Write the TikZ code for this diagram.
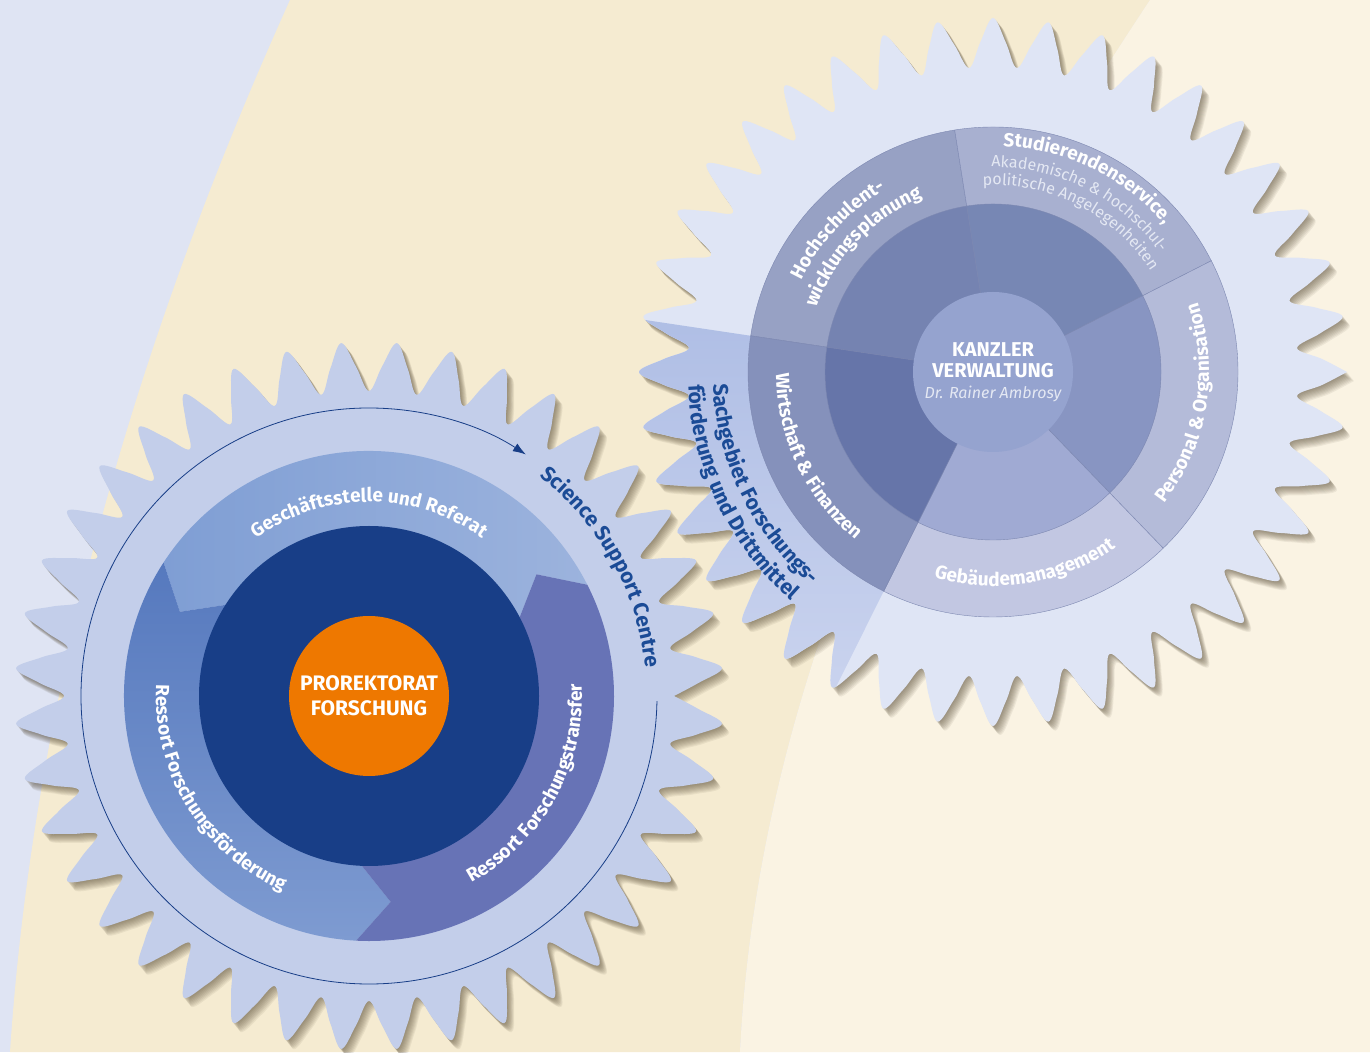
\documentclass[tikz,border=0pt]{standalone}
\usepackage{fontspec}
\setmainfont{Fira Sans}
\usetikzlibrary{decorations.text, arrows.meta}

\definecolor{bgblue}{HTML}{DFE4F3}
\definecolor{bgbeige}{HTML}{F5EBD1}
\definecolor{bgcream}{HTML}{FAF3E3}
\definecolor{gearleft}{HTML}{C3CEEA}
\definecolor{gearright}{HTML}{DFE5F5}
\definecolor{gearshade}{HTML}{4A3E28}
\definecolor{segAl}{HTML}{7F9ED4}
\definecolor{segAr}{HTML}{9CB3DD}
\definecolor{segBt}{HTML}{5679BE}
\definecolor{segBb}{HTML}{7E9BD1}
\definecolor{segC}{HTML}{6773B6}
\definecolor{coreblue}{HTML}{183E87}
\definecolor{prorange}{HTML}{EE7800}
\definecolor{textblue}{HTML}{1B4B96}
\definecolor{wedgetop}{HTML}{AFBEE5}
\definecolor{wedgebot}{HTML}{CCD5EF}
\definecolor{hsout}{HTML}{97A1C4}
\definecolor{hsin}{HTML}{7583B1}
\definecolor{stout}{HTML}{A8B0D0}
\definecolor{stin}{HTML}{7787B4}
\definecolor{peout}{HTML}{B4BBD9}
\definecolor{pein}{HTML}{8895C2}
\definecolor{geout}{HTML}{C2C7E2}
\definecolor{gein}{HTML}{A0AAD3}
\definecolor{wiout}{HTML}{8591BB}
\definecolor{wiin}{HTML}{6675A9}
\definecolor{kanzlerblue}{HTML}{95A3CF}
\definecolor{secline}{HTML}{7D88B1}
\definecolor{sublabel}{HTML}{E4E8F3}

\newcommand{\lblfont}{\bfseries\fontsize{19}{23}\selectfont}
\newcommand{\bluelblfont}{\bfseries\fontsize{21}{25}\selectfont}
\newcommand{\sublblfont}{\fontsize{16}{19}\selectfont}

\begin{document}
\begin{tikzpicture}[x=1pt, y=1pt,
		declare function={gearr(\a,\p)=305+49*abs(Mod(40*(\a-\p),360)-180)/180;},
		gearplot/.style={domain=0:360, samples=161, variable=\a, smooth, tension=0.6},
		gearshadow/.style={fill=gearshade, opacity=0.075},
		arctext/.style={decorate, decoration={text along path, text align=center, text color=#1}},
		sector/.style={fill=#1, draw=secline, line width=0.4pt},
		centrelabel/.style={circle, inner sep=0pt, minimum size=160pt, align=center, text=white}]

		\useasboundingbox (0,0) rectangle (1370,1052);
		\clip (0,0) rectangle (1370,1052);

		% Draw the background bands
		\fill[bgblue] (0,0) rectangle (1370,1052);
		\fill[bgbeige] (290,1052) .. controls (190,830) and (40,450) .. (10,0) -- (740,0) .. controls (760,400) and (950,750) .. (1150,1052) -- cycle;
		\fill[bgcream] (1150,1052) .. controls (950,750) and (760,400) .. (740,0) -- (1370,0) -- (1370,1052) -- cycle;

		% Draw the soft shadows of both gears
		\foreach \d in {1,...,9} {
			\fill[gearshadow, shift={(369+0.8*\d,356-\d)}] plot[gearplot] (\a:{gearr(\a,85.5)}) -- cycle;
			\fill[gearshadow, shift={(993+0.8*\d,680-\d)}] plot[gearplot] (\a:{gearr(\a,90)}) -- cycle;
		}

		% Left gear: Prorektorat Forschung
		\begin{scope}[shift={(369,356)}]
			\fill[gearleft] plot[gearplot] (\a:{gearr(\a,85.5)}) -- cycle;

			% Draw the three arrow segments
			\shade[left color=segAl, right color=segAr] (27:245) arc[start angle=27, end angle=147, radius=245] -- (156:207) -- (147:168) arc[start angle=147, end angle=27, radius=168] -- (36:207) -- cycle;
			\shade[top color=segBt, bottom color=segBb] (147:245) arc[start angle=147, end angle=267, radius=245] -- (276:207) -- (267:168) arc[start angle=267, end angle=147, radius=168] -- (156:207) -- cycle;
			\fill[segC] (267:245) arc[start angle=267, end angle=387, radius=245] -- (396:207) -- (387:168) arc[start angle=387, end angle=267, radius=168] -- (276:207) -- cycle;

			% Draw the core and the centre
			\fill[coreblue] (0,0) circle[radius=170];
			\node[centrelabel, fill=prorange, font=\bfseries\fontsize{21}{25}\selectfont] (prorektorat) at (0,0) {PROREKTORAT\\FORSCHUNG};

			% Draw the thin circling arrow
			\draw[coreblue, line width=0.8pt, -{Latex[length=13pt, width=9pt]}] (-1:288) arc[start angle=-1, end angle=-303, radius=288];

			% Labels along the ring
			\path[arctext=white, decoration={text={|\lblfont|Geschäftsstelle und Referat}}] (150:194) arc[start angle=150, end angle=30, radius=194];
			\path[arctext=white, decoration={text={|\lblfont|Ressort Forschungsförderung}}] (151.5:213) arc[start angle=151.5, end angle=271.5, radius=213];
			\path[arctext=white, decoration={text={|\lblfont|Ressort Forschungstransfer}}] (-89:213) arc[start angle=-89, end angle=31, radius=213];
			\path[arctext=textblue, decoration={text={|\bluelblfont|Science Support Centre}}] (89:278) arc[start angle=89, end angle=-31, radius=278];
		\end{scope}

		% Right gear: Kanzler Verwaltung
		\begin{scope}[shift={(993,680)}]
			\fill[gearright] plot[gearplot] (\a:{gearr(\a,90)}) -- cycle;

			% Draw the wedge of the Sachgebiet
			\begin{scope}
				\clip plot[gearplot] (\a:{gearr(\a,90)}) -- cycle;
				\shade[top color=wedgetop, bottom color=wedgebot] (0,0) -- (171.5:400) arc[start angle=171.5, end angle=243.5, radius=400] -- cycle;
			\end{scope}

			% Draw the outer ring
			\path[sector=hsout] (0,0) -- (99:245) arc[start angle=99, end angle=171.5, radius=245] -- cycle;
			\path[sector=stout] (0,0) -- (27:245) arc[start angle=27, end angle=99, radius=245] -- cycle;
			\path[sector=peout] (0,0) -- (-46:245) arc[start angle=-46, end angle=27, radius=245] -- cycle;
			\path[sector=geout] (0,0) -- (-116.5:245) arc[start angle=-116.5, end angle=-46, radius=245] -- cycle;
			\path[sector=wiout] (0,0) -- (171.5:245) arc[start angle=171.5, end angle=243.5, radius=245] -- cycle;

			% Draw the inner ring
			\path[sector=hsin] (0,0) -- (99:168) arc[start angle=99, end angle=171.5, radius=168] -- cycle;
			\path[sector=stin] (0,0) -- (27:168) arc[start angle=27, end angle=99, radius=168] -- cycle;
			\path[sector=pein] (0,0) -- (-46:168) arc[start angle=-46, end angle=27, radius=168] -- cycle;
			\path[sector=gein] (0,0) -- (-116.5:168) arc[start angle=-116.5, end angle=-46, radius=168] -- cycle;
			\path[sector=wiin] (0,0) -- (171.5:168) arc[start angle=171.5, end angle=243.5, radius=168] -- cycle;

			% Draw the centre
			\node[centrelabel, fill=kanzlerblue, font=\bfseries\fontsize{20}{21}\selectfont] (kanzler) at (0,0) {KANZLER\\VERWALTUNG\\{\mdseries\itshape\fontsize{16}{18}\selectfont\color{sublabel}Dr. Rainer Ambrosy}};

			% Labels along the rings
			\path[arctext=white, decoration={text={|\lblfont|Hochschulent-}}] (197.5:212) arc[start angle=197.5, end angle=77.5, radius=212];
			\path[arctext=white, decoration={text={|\lblfont|wicklungsplanung}}] (196:188) arc[start angle=196, end angle=76, radius=188];
			\path[arctext=white, decoration={text={|\lblfont|Studierendenservice,}}] (124:226) arc[start angle=124, end angle=4, radius=226];
			\path[arctext=sublabel, decoration={text={|\sublblfont|Akademische {\&} hochschul-}}] (123:205) arc[start angle=123, end angle=3, radius=205];
			\path[arctext=sublabel, decoration={text={|\sublblfont|politische Angelegenheiten}}] (122.8:187) arc[start angle=122.8, end angle=2.8, radius=187];
			\path[arctext=white, decoration={text={|\lblfont|Personal {\&} Organisation}}] (-69.4:216) arc[start angle=-69.4, end angle=50.6, radius=216];
			\path[arctext=white, decoration={text={|\lblfont|Gebäudemanagement}}] (219.5:214) arc[start angle=219.5, end angle=339.5, radius=214];
			\path[arctext=white, decoration={text={|\lblfont|Wirtschaft {\&} Finanzen}}] (145.5:217) arc[start angle=145.5, end angle=265.5, radius=217];
			\path[arctext=textblue, decoration={text={|\bluelblfont|Sachgebiet Forschungs-}}] (146:280) arc[start angle=146, end angle=266, radius=280];
			\path[arctext=textblue, decoration={text={|\bluelblfont|förderung und Drittmittel}}] (145.5:305) arc[start angle=145.5, end angle=265.5, radius=305];
		\end{scope}

	\end{tikzpicture}
\end{document}
